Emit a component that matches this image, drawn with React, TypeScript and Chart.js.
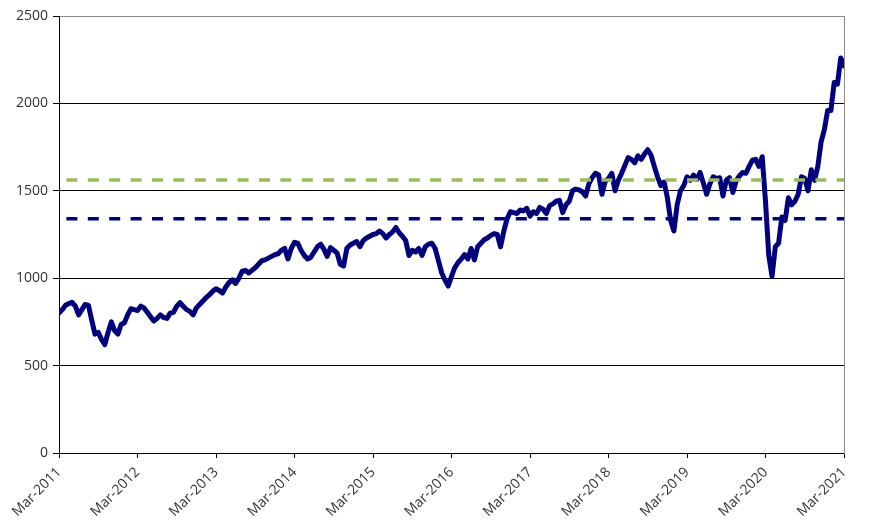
import React, { useEffect, useRef } from 'react';
import { Chart, registerables } from 'chart.js';

Chart.register(...registerables);

// Tick labels on the x axis (one per year)
const tickLabels = [
  'Mar-2011', 'Mar-2012', 'Mar-2013', 'Mar-2014', 'Mar-2015', 'Mar-2016',
  'Mar-2017', 'Mar-2018', 'Mar-2019', 'Mar-2020', 'Mar-2021',
];

// Number of observations per year (half-monthly readings)
const pointsPerYear = 24;

// Index level, half-monthly from Mar-2011 to Mar-2021
const indexValues = [
  800, 820, 845, 855, 862, 840, 790, 820, 850, 845,
  760, 680, 690, 650, 620, 690, 750, 700, 680, 735,
  745, 790, 825, 820, 815, 840, 830, 805, 780, 755,
  770, 790, 775, 770, 800, 805, 840, 860, 840, 820,
  810, 790, 830, 850, 870, 890, 905, 925, 940, 930,
  915, 950, 975, 990, 970, 1000, 1040, 1045, 1030, 1045,
  1060, 1080, 1100, 1105, 1115, 1125, 1135, 1140, 1160, 1170,
  1110, 1170, 1205, 1200, 1160, 1130, 1110, 1120, 1150, 1180,
  1195, 1165, 1125, 1175, 1160, 1145, 1080, 1070, 1170, 1190,
  1200, 1210, 1180, 1215, 1230, 1240, 1250, 1255, 1270, 1255,
  1230, 1250, 1265, 1290, 1260, 1240, 1215, 1130, 1160, 1150,
  1170, 1130, 1180, 1195, 1200, 1170, 1100, 1030, 990, 955,
  1010, 1060, 1090, 1110, 1135, 1110, 1170, 1105, 1180, 1200,
  1220, 1230, 1245, 1255, 1250, 1180, 1270, 1340, 1380, 1375,
  1370, 1390, 1385, 1400, 1355, 1380, 1370, 1405, 1395, 1370,
  1415, 1425, 1440, 1445, 1375, 1420, 1440, 1500, 1510, 1505,
  1495, 1470, 1540, 1575, 1600, 1590, 1480, 1555, 1570, 1600,
  1500, 1560, 1600, 1645, 1690, 1680, 1660, 1700, 1680, 1710,
  1735, 1705, 1640, 1580, 1530, 1550, 1460, 1330, 1270, 1420,
  1500, 1530, 1580, 1560, 1590, 1565, 1605, 1545, 1480, 1540,
  1580, 1570, 1575, 1470, 1560, 1575, 1490, 1555, 1585, 1605,
  1600, 1640, 1675, 1680, 1640, 1695, 1440, 1130, 1010, 1180,
  1200, 1350, 1330, 1460, 1420, 1440, 1480, 1580, 1570, 1500,
  1620, 1560, 1640, 1780, 1850, 1960, 1960, 2120, 2110, 2260,
  2215,
];

// Reference levels (dashed lines)
const greenLevel = 1562;
const navyLevel = 1340;

// Y axis range
const yMin = 0;
const yMax = 2500;
const yStep = 500;

export default function App() {
  const canvasRef = useRef<HTMLCanvasElement | null>(null);

  useEffect(() => {
    const canvas = canvasRef.current;
    if (!canvas) return;
    const lastX = indexValues.length - 1;
    const font = { family: "'Open Sans', sans-serif", size: 14 };

    const chart = new Chart(canvas, {
      type: 'line',
      data: {
        datasets: [
          {
            data: indexValues.map((v, i) => ({ x: i, y: v })),
            borderColor: '#00007f',
            borderWidth: 5,
            pointRadius: 0,
            tension: 0,
            borderJoinStyle: 'round',
            borderCapStyle: 'round',
            order: 2,
          },
          {
            data: [
              { x: 0, y: greenLevel },
              { x: lastX, y: greenLevel },
            ],
            borderColor: '#9bbb59',
            borderWidth: 3.5,
            borderDash: [11, 10.4],
            borderDashOffset: 14,
            pointRadius: 0,
            order: 1,
          },
          {
            data: [
              { x: 0, y: navyLevel },
              { x: lastX, y: navyLevel },
            ],
            borderColor: '#00007f',
            borderWidth: 3.5,
            borderDash: [11, 10.4],
            borderDashOffset: 14,
            pointRadius: 0,
            order: 1,
          },
        ],
      },
      options: {
        animation: false,
        responsive: false,
        maintainAspectRatio: false,
        layout: { padding: { top: 16, right: 25, left: 0, bottom: 0 } },
        plugins: {
          legend: { display: false },
          tooltip: { enabled: false },
        },
        scales: {
          x: {
            type: 'linear',
            min: 0,
            max: lastX,
            ticks: {
              stepSize: pointsPerYear,
              autoSkip: false,
              minRotation: 45,
              maxRotation: 45,
              padding: 6,
              color: '#333',
              font,
              callback: (v: any) => tickLabels[Math.round(Number(v) / pointsPerYear)] ?? '',
            },
            grid: {
              drawOnChartArea: false,
              drawTicks: true,
              tickLength: 5,
              color: '#000',
            },
            border: { display: true, color: '#000', width: 1 },
            afterFit: (s: any) => {
              s.height = 78;
            },
          },
          y: {
            position: 'left',
            min: yMin,
            max: yMax,
            ticks: {
              stepSize: yStep,
              padding: 5,
              color: '#333',
              font,
              callback: (v: any) => String(v),
            },
            grid: {
              color: (ctx: any) => (ctx.tick && ctx.tick.value === yMax ? '#8c8c8c' : '#000'),
              tickColor: '#000',
              lineWidth: 1,
              tickLength: 6,
            },
            border: { display: true, color: '#000', width: 1 },
            afterFit: (s: any) => {
              s.width = 59;
            },
          },
          y2: {
            position: 'right',
            min: yMin,
            max: yMax,
            ticks: { display: false },
            grid: { display: false, drawTicks: false },
            border: { display: true, color: '#8c8c8c', width: 1 },
            afterFit: (s: any) => {
              s.width = 0;
            },
          },
        },
      },
    });

    return () => {
      chart.destroy();
    };
  }, []);

  return (
    <canvas
      ref={canvasRef}
      width={869}
      height={531}
      style={{ position: 'absolute', left: 0, top: 0, width: 869, height: 531 }}
    />
  );
}
